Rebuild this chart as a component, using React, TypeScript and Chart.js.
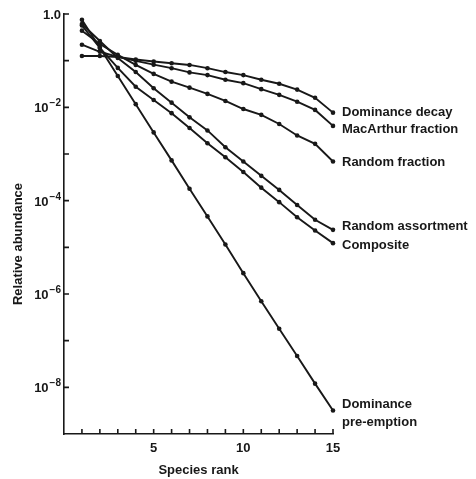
import React, { useEffect, useRef } from 'react';
import { Chart, registerables } from 'chart.js';

Chart.register(...registerables);

const ranks = [1, 2, 3, 4, 5, 6, 7, 8, 9, 10, 11, 12, 13, 14, 15];

const dominanceDecay = [0.126, 0.126, 0.12, 0.106, 0.096, 0.088, 0.081, 0.069, 0.057, 0.049, 0.039, 0.032, 0.024, 0.016, 0.0077];
const macArthurFraction = [0.22, 0.155, 0.121, 0.099, 0.082, 0.069, 0.056, 0.049, 0.039, 0.033, 0.0245, 0.0185, 0.0132, 0.0088, 0.004];
const randomFraction = [0.44, 0.228, 0.133, 0.081, 0.052, 0.0355, 0.0264, 0.0194, 0.0137, 0.0092, 0.0069, 0.0044, 0.0025, 0.00165, 0.00069];
const randomAssortment = [0.61, 0.264, 0.114, 0.057, 0.0256, 0.0126, 0.0061, 0.0032, 0.0014, 0.00069, 0.00034, 0.00017, 0.000081, 0.000039, 0.0000237];
const composite = [0.57, 0.187, 0.07, 0.0277, 0.0144, 0.0075, 0.0036, 0.0017, 0.00085, 0.00041, 0.00019, 0.000093, 0.000044, 0.000023, 0.0000123];
const dominancePreemption = [0.75, 0.19, 0.047, 0.0117, 0.0029, 0.00073, 0.00018, 0.000046, 0.0000115, 0.0000028, 7e-7, 1.8e-7, 4.7e-8, 1.2e-8, 3.2e-9];

const seriesLabels: (string | string[])[] = [
  'Dominance decay',
  'MacArthur fraction',
  'Random fraction',
  'Random assortment',
  'Composite',
  ['Dominance', 'pre-emption'],
];
const seriesValues = [dominanceDecay, macArthurFraction, randomFraction, randomAssortment, composite, dominancePreemption];

const yTickValues = [1, 1e-1, 1e-2, 1e-3, 1e-4, 1e-5, 1e-6, 1e-7, 1e-8];
// [base, exponent]; empty base = no label
const yTickLabels: [string, string][] = [
  ['1.0', ''], ['', ''], ['10', '−2'], ['', ''], ['10', '−4'], ['', ''], ['10', '−6'], ['', ''], ['10', '−8'],
];
const xTickLabelValues = [5, 10, 15];

const xTitle = 'Species rank';
const yTitle = 'Relative abundance';

// label vertical nudges (px) so the end labels sit like the original
const labelNudge = [0, 4, 1, -3, 2, 3];

export default function App() {
  const ref = useRef<HTMLCanvasElement | null>(null);

  useEffect(() => {
    const canvas = ref.current;
    if (!canvas) return;
    const ink = '#181818';
    const fontFamily = '"Liberation Sans", Arial, Helvetica, sans-serif';
    const mainFont = 'bold 13px ' + fontFamily;
    const supFont = 'bold 10px ' + fontFamily;

    const decorPlugin = {
      id: 'decor',
      afterDatasetsDraw(chart: any) {
        const c = chart.ctx;
        const xs = chart.scales.x;
        const ys = chart.scales.y;
        const area = chart.chartArea;
        c.save();
        // inward tick marks
        c.strokeStyle = ink;
        c.lineWidth = 1.6;
        c.beginPath();
        ranks.forEach((r) => {
          const px = xs.getPixelForValue(r);
          c.moveTo(px, area.bottom);
          c.lineTo(px, area.bottom - 5);
        });
        yTickValues.forEach((v) => {
          const py = ys.getPixelForValue(v);
          c.moveTo(area.left, py);
          c.lineTo(area.left + 5, py);
        });
        c.stroke();

        c.fillStyle = ink;
        // y tick labels with superscript exponents
        c.textBaseline = 'alphabetic';
        c.textAlign = 'left';
        yTickValues.forEach((v, i) => {
          const [base, exp] = yTickLabels[i];
          if (!base) return;
          const py = ys.getPixelForValue(v);
          c.font = mainFont;
          const wb = c.measureText(base).width;
          c.font = supFont;
          const we = exp ? c.measureText(exp).width + 1 : 0;
          const right = area.left - 3;
          const x0 = right - wb - we;
          c.font = mainFont;
          c.fillText(base, x0, py + 5);
          if (exp) {
            c.font = supFont;
            c.fillText(exp, x0 + wb + 1, py - 1);
          }
        });

        // end labels
        c.font = mainFont;
        c.textBaseline = 'middle';
        c.textAlign = 'left';
        chart.data.datasets.forEach((_ds: any, i: number) => {
          const meta = chart.getDatasetMeta(i);
          const pt = meta.data[meta.data.length - 1];
          const lab = seriesLabels[i];
          const lines = Array.isArray(lab) ? lab : [lab];
          const lh = 18;
          const startY = pt.y + labelNudge[i] - ((lines.length - 1) * lh) / 2;
          lines.forEach((ln, k) => {
            c.fillText(ln, pt.x + 9, startY + k * lh);
          });
        });

        // y axis title
        c.translate(18, 244);
        c.rotate(-Math.PI / 2);
        c.textAlign = 'center';
        c.fillText(yTitle, 0, 0);
        c.restore();
      },
    };

    const chart = new Chart(canvas, {
      type: 'line',
      data: {
        datasets: seriesValues.map((vals, i) => ({
          label: Array.isArray(seriesLabels[i]) ? (seriesLabels[i] as string[]).join(' ') : (seriesLabels[i] as string),
          data: vals.map((v, k) => ({ x: ranks[k], y: v })),
          borderColor: ink,
          backgroundColor: ink,
          borderWidth: 1.9,
          pointRadius: 2.3,
          pointBorderWidth: 0,
          pointBackgroundColor: ink,
          tension: 0,
          clip: false as any,
        })),
      },
      plugins: [decorPlugin],
      options: {
        animation: false,
        responsive: false,
        devicePixelRatio: 1,
        layout: { padding: { top: 14, right: 143, left: 0, bottom: 0 } },
        plugins: {
          legend: { display: false },
          tooltip: { enabled: false },
        },
        scales: {
          x: {
            type: 'linear',
            min: 0,
            max: 15,
            grid: { display: false, drawTicks: false },
            border: { display: true, color: ink, width: 1.6 },
            afterBuildTicks: (scale: any) => {
              scale.ticks = xTickLabelValues.map((v) => ({ value: v }));
            },
            afterFit: (scale: any) => {
              scale.height = 45;
            },
            ticks: {
              autoSkip: false,
              maxRotation: 0,
              padding: 7,
              color: ink,
              font: { size: 13, weight: 'bold', family: fontFamily },
              callback: (v: any) => String(v),
            },
            title: {
              display: true,
              text: xTitle,
              color: ink,
              font: { size: 13, weight: 'bold', family: fontFamily },
              padding: { top: 0, bottom: 1 },
            },
          },
          y: {
            type: 'logarithmic',
            min: 1e-9,
            max: 1,
            grid: { display: false, drawTicks: false },
            border: { display: true, color: ink, width: 1.6 },
            afterBuildTicks: (scale: any) => {
              scale.ticks = yTickValues.map((v) => ({ value: v }));
            },
            afterFit: (scale: any) => {
              scale.width = 64;
            },
            ticks: { display: false },
          },
        },
      },
    } as any);

    return () => chart.destroy();
  }, []);

  return (
    <div style={{ position: 'fixed', left: 0, top: 0, width: 476, height: 479, background: '#fff' }}>
      <canvas ref={ref} width={476} height={479} style={{ display: 'block' }} />
    </div>
  );
}
